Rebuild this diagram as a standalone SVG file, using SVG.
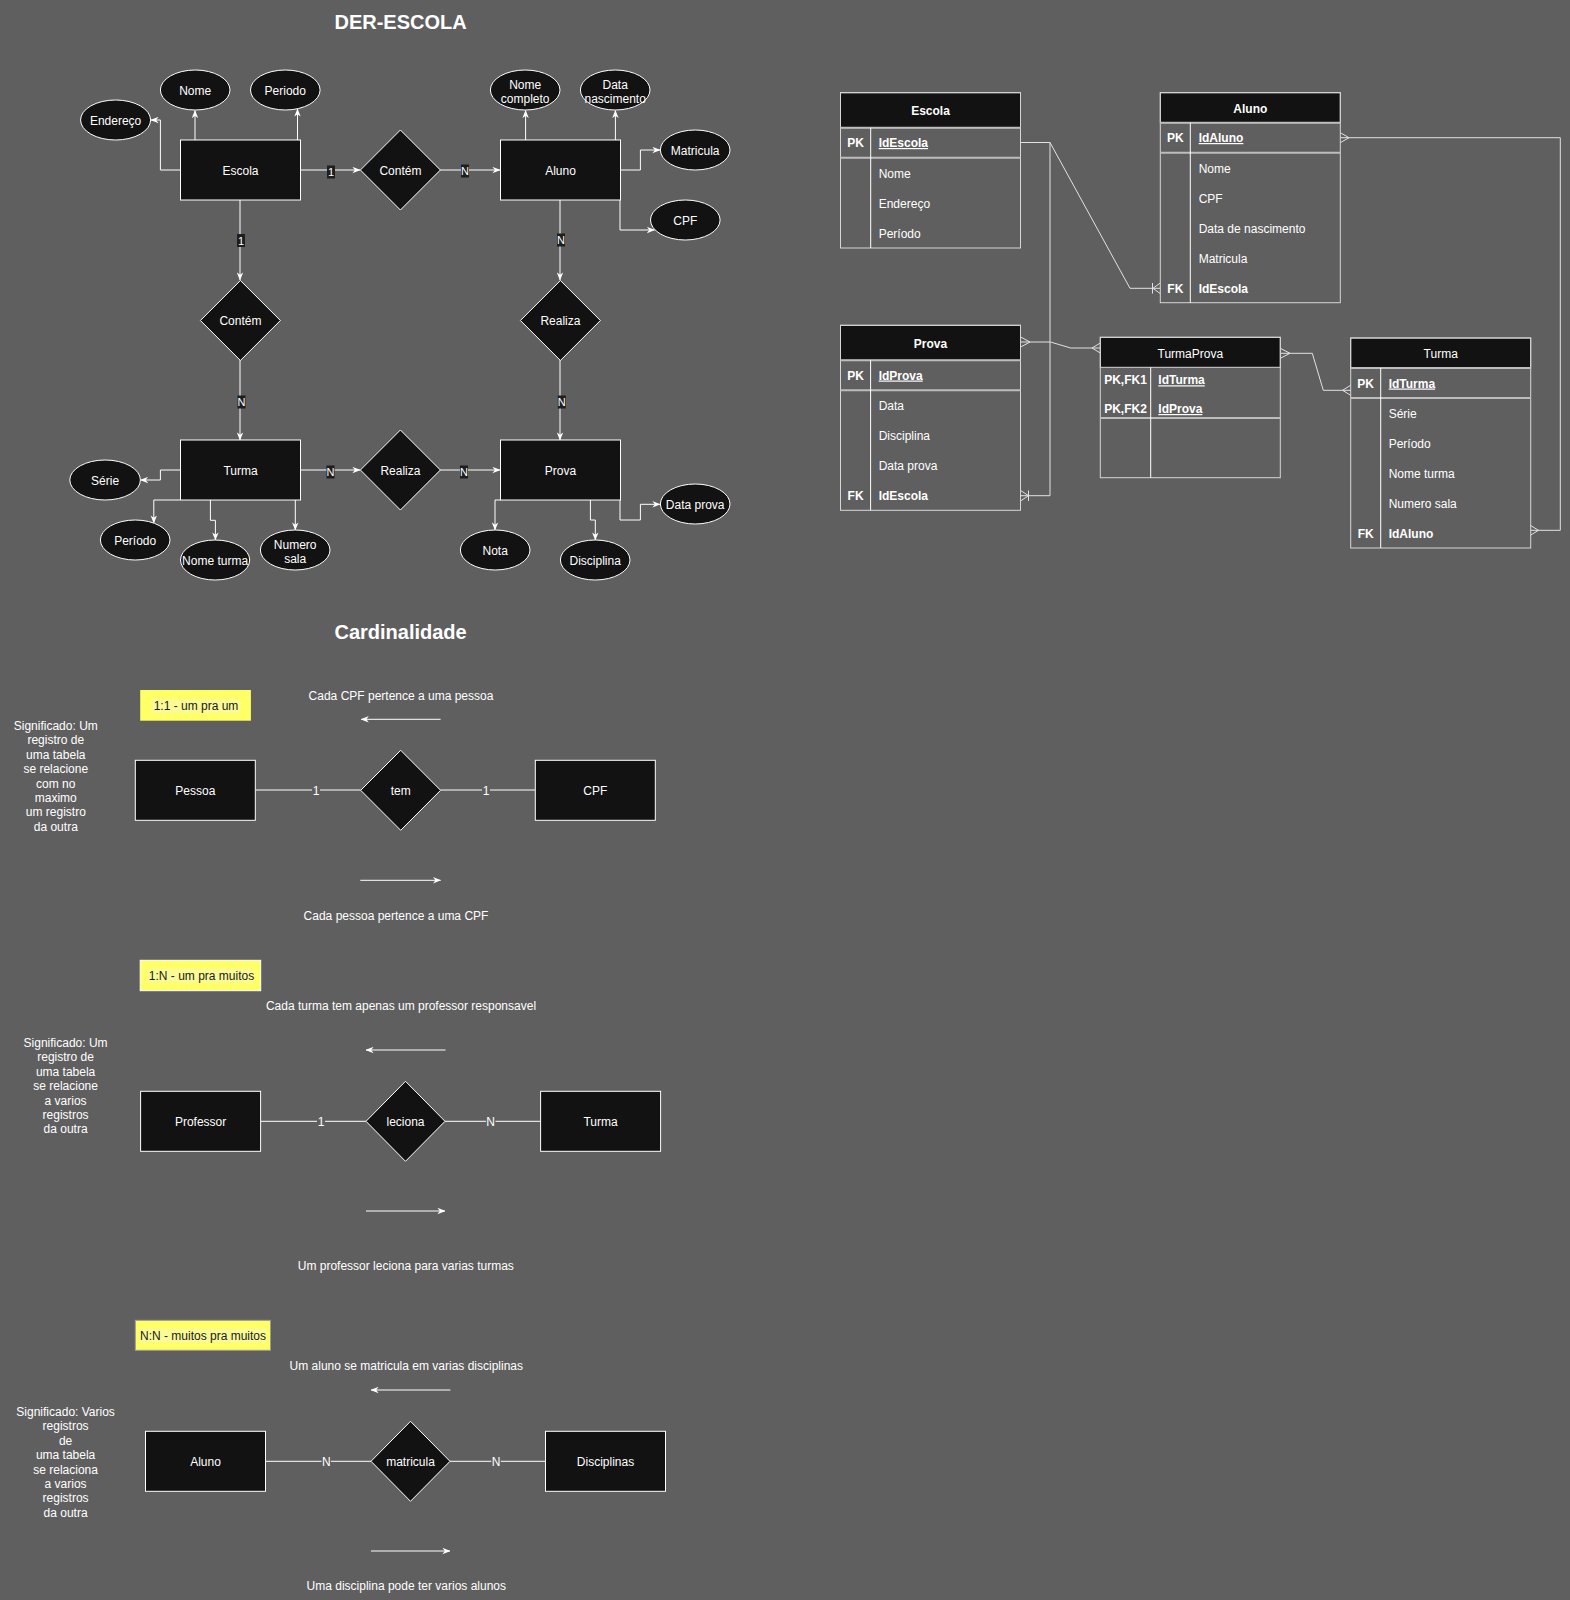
<svg xmlns="http://www.w3.org/2000/svg" width="1570" height="1600" viewBox="0 0 1570 1600">
<style>
text{font-family:"Liberation Sans",Arial,Helvetica,sans-serif;font-size:12px;fill:#ffffff}
.c{text-anchor:middle}
.b{font-weight:bold}
.u{text-decoration:underline}
.title{font-size:20px;font-weight:bold;text-anchor:middle}
.ent{fill:#121212;stroke:#ffffff;stroke-width:1}
.e{fill:none;stroke:#ffffff;stroke-width:1}
.er{fill:none;stroke:#e2e2e2;stroke-width:1}
.lbl{font-size:11px;text-anchor:middle}
.lb{fill:#1e1e1e}
.cb{fill:#5f5f5f}
.hdr{fill:#121212;stroke:#d6d6d6;stroke-width:1}
.tbl{fill:none;stroke:#d6d6d6;stroke-width:1}
.sep{stroke:#bdbdbd;stroke-width:2}
.col{stroke:#ffffff;stroke-width:1}
.yb{fill:#ffff66}
.yi{fill:#fbfb96}
.dk{fill:#1a1a1a;text-anchor:middle}
</style>
<defs>
<marker id="arr" viewBox="0 0 10 8" refX="9.5" refY="4" markerWidth="8" markerHeight="7" markerUnits="userSpaceOnUse" orient="auto">
<path d="M0,0 L10,4 L0,8 L3,4 z" fill="#ffffff"/>
</marker>
</defs>
<rect x="0" y="0" width="1570" height="1600" fill="#5f5f5f"/>

<text id="title-der" class="title" x="400.6" y="29.3">DER-ESCOLA</text>
<text id="title-card" class="title" x="400.6" y="639">Cardinalidade</text>

<!-- ER connectors -->
<g id="connectors">
<path class="e" d="M180,170 H160.4 V120 H151" marker-end="url(#arr)"/>
<path class="e" d="M195,140 V110.5" marker-end="url(#arr)"/>
<path class="e" d="M297.5,140 V109" marker-end="url(#arr)"/>
<path class="e" d="M300,170 H360" marker-end="url(#arr)"/>
<path class="e" d="M440,170 H500" marker-end="url(#arr)"/>
<path class="e" d="M525.6,140 V110.5" marker-end="url(#arr)"/>
<path class="e" d="M615.4,140 V110.5" marker-end="url(#arr)"/>
<path class="e" d="M620,170 H640.4 V150 H660" marker-end="url(#arr)"/>
<path class="e" d="M620,200 V230 H654.5" marker-end="url(#arr)"/>
<path class="e" d="M240,200 V280" marker-end="url(#arr)"/>
<path class="e" d="M560,200 V280" marker-end="url(#arr)"/>
<path class="e" d="M240,360 V440" marker-end="url(#arr)"/>
<path class="e" d="M560,360 V440" marker-end="url(#arr)"/>
<path class="e" d="M300,470 H360" marker-end="url(#arr)"/>
<path class="e" d="M440,470 H500" marker-end="url(#arr)"/>
<path class="e" d="M180,470 H160.4 V480 H140.5" marker-end="url(#arr)"/>
<path class="e" d="M180,500 H153.8 V523" marker-end="url(#arr)"/>
<path class="e" d="M210.4,500 V520.3 H215.4 V540" marker-end="url(#arr)"/>
<path class="e" d="M295.3,500 V530" marker-end="url(#arr)"/>
<path class="e" d="M500.6,500 H495 V530" marker-end="url(#arr)"/>
<path class="e" d="M590.4,500 V520 H595.3 V540" marker-end="url(#arr)"/>
<path class="e" d="M620,500 V520 H640.4 V504.3 H660" marker-end="url(#arr)"/>

<rect class="lb" x="327" y="165.5" width="8" height="13"/><text class="lbl" x="331" y="176">1</text>
<rect class="lb" x="461" y="164.5" width="8" height="13"/><text class="lbl" x="465" y="175">N</text>
<rect class="lb" x="237" y="234" width="8" height="13"/><text class="lbl" x="241" y="244.5">1</text>
<rect class="lb" x="557" y="233.5" width="8" height="13"/><text class="lbl" x="561" y="244">N</text>
<rect class="lb" x="237.5" y="395.5" width="8" height="13"/><text class="lbl" x="241.5" y="406">N</text>
<rect class="lb" x="557.8" y="395.5" width="8" height="13"/><text class="lbl" x="561.8" y="406">N</text>
<rect class="lb" x="326.5" y="465.5" width="8" height="13"/><text class="lbl" x="330.5" y="476">N</text>
<rect class="lb" x="460" y="465.5" width="8" height="13"/><text class="lbl" x="464" y="476">N</text>

<!-- relational connectors -->
<path class="er" d="M1020.7,142.5 H1050 L1130,288.3 H1160.3"/>
<path class="er" d="M1160.3,283 L1153,288.3 L1160.3,293.6 M1152.5,283 V293.6"/>
<path class="er" d="M1050,142.5 V495.7 H1020.7"/>
<path class="er" d="M1020.7,490.5 L1028.5,495.7 L1020.7,500.9 M1028.5,490.5 V500.9"/>
<path class="er" d="M1020.7,342 H1050.5 L1070.7,348 H1100.3"/>
<path class="er" d="M1020.7,337 L1030,342 L1020.7,347"/>
<path class="er" d="M1100.3,343 L1092,348 L1100.3,353"/>
<path class="er" d="M1280.3,353.3 H1312.3 L1323.3,390.3 H1350.7"/>
<path class="er" d="M1280.3,348.3 L1290,353.3 L1280.3,358.3"/>
<path class="er" d="M1350.7,385.3 L1342.5,390.3 L1350.7,395.3"/>
<path class="er" d="M1340.3,137.7 H1560.3 V530.3 H1530.3"/>
<path class="er" d="M1340.3,132.7 L1349,137.7 L1340.3,142.7"/>
<path class="er" d="M1530.3,525.3 L1538.5,530.3 L1530.3,535.3"/>

<!-- cardinality connectors -->
<path class="e" d="M255.4,790 H360.7"/>
<path class="e" d="M440.6,790 H535.3"/>
<rect class="cb" x="312" y="783" width="8" height="14"/><text class="c" x="316" y="794.5">1</text>
<rect class="cb" x="482" y="783" width="8" height="14"/><text class="c" x="486" y="794.5">1</text>
<path class="e" d="M260.7,1121.3 H366"/>
<path class="e" d="M445,1121.3 H540.6"/>
<rect class="cb" x="317" y="1114.3" width="8" height="14"/><text class="c" x="321" y="1126">1</text>
<rect class="cb" x="486" y="1114.3" width="9.5" height="14"/><text class="c" x="490.6" y="1126">N</text>
<path class="e" d="M265.6,1461.3 H371"/>
<path class="e" d="M450,1461.3 H545.5"/>
<rect class="cb" x="321.5" y="1454.3" width="9.5" height="14"/><text class="c" x="326.3" y="1466">N</text>
<rect class="cb" x="491.3" y="1454.3" width="9.5" height="14"/><text class="c" x="496" y="1466">N</text>

<path class="e" d="M440.6,719.3 H361.2" marker-end="url(#arr)"/>
<path class="e" d="M360.3,880.3 H440.6" marker-end="url(#arr)"/>
<path class="e" d="M445.5,1050 H366" marker-end="url(#arr)"/>
<path class="e" d="M366,1211 H445" marker-end="url(#arr)"/>
<path class="e" d="M450.4,1390 H371" marker-end="url(#arr)"/>
<path class="e" d="M371,1551 H450" marker-end="url(#arr)"/>
</g>

<!-- ER entities -->
<g id="ent-escola"><rect class="ent" x="180.5" y="140" width="120" height="60"/><text class="c" x="240.5" y="175">Escola</text></g>
<g id="ent-aluno"><rect class="ent" x="500.5" y="140" width="120" height="60"/><text class="c" x="560.5" y="175">Aluno</text></g>
<g id="ent-turma"><rect class="ent" x="180.5" y="440" width="120" height="60"/><text class="c" x="240.5" y="475">Turma</text></g>
<g id="ent-prova"><rect class="ent" x="500.5" y="440" width="120" height="60"/><text class="c" x="560.5" y="475">Prova</text></g>

<g id="rel-contem1"><polygon class="ent" points="400.4,130 440.4,170 400.4,210 360.4,170"/><text class="c" x="400.4" y="175">Contém</text></g>
<g id="rel-contem2"><polygon class="ent" points="240.4,280.5 280.4,320.5 240.4,360.5 200.4,320.5"/><text class="c" x="240.4" y="325">Contém</text></g>
<g id="rel-realiza1"><polygon class="ent" points="560.4,280.5 600.4,320.5 560.4,360.5 520.4,320.5"/><text class="c" x="560.4" y="325">Realiza</text></g>
<g id="rel-realiza2"><polygon class="ent" points="400.4,430 440.4,470 400.4,510 360.4,470"/><text class="c" x="400.4" y="475">Realiza</text></g>

<g id="att-nome"><ellipse class="ent" cx="195.2" cy="90" rx="34.8" ry="20"/><text class="c" x="195.2" y="95">Nome</text></g>
<g id="att-periodo"><ellipse class="ent" cx="285.3" cy="90" rx="34.8" ry="20"/><text class="c" x="285.3" y="95">Periodo</text></g>
<g id="att-endereco"><ellipse class="ent" cx="115.6" cy="120" rx="35" ry="20"/><text class="c" x="115.6" y="125">Endereço</text></g>
<g id="att-nomecompleto"><ellipse class="ent" cx="525.2" cy="90" rx="34.8" ry="20"/><text class="c" x="525.2" y="88.5">Nome</text><text class="c" x="525.2" y="103">completo</text></g>
<g id="att-datanasc"><ellipse class="ent" cx="615.2" cy="90" rx="34.8" ry="20"/><text class="c" x="615.2" y="88.5">Data</text><text class="c" x="615.2" y="103">nascimento</text></g>
<g id="att-matricula"><ellipse class="ent" cx="695.2" cy="150" rx="34.8" ry="20"/><text class="c" x="695.2" y="155">Matricula</text></g>
<g id="att-cpf"><ellipse class="ent" cx="685.3" cy="220" rx="34.8" ry="20"/><text class="c" x="685.3" y="225">CPF</text></g>
<g id="att-serie"><ellipse class="ent" cx="105.1" cy="480" rx="35.3" ry="20"/><text class="c" x="105.1" y="485">Série</text></g>
<g id="att-periodo2"><ellipse class="ent" cx="135.2" cy="540" rx="34.8" ry="20"/><text class="c" x="135.2" y="545">Período</text></g>
<g id="att-nometurma"><ellipse class="ent" cx="215.1" cy="560" rx="34.6" ry="20"/><text class="c" x="215.1" y="565">Nome turma</text></g>
<g id="att-numerosala"><ellipse class="ent" cx="295.2" cy="550" rx="34.8" ry="20"/><text class="c" x="295.2" y="548.5">Numero</text><text class="c" x="295.2" y="563">sala</text></g>
<g id="att-nota"><ellipse class="ent" cx="495.2" cy="550" rx="34.8" ry="20"/><text class="c" x="495.2" y="555">Nota</text></g>
<g id="att-disciplina"><ellipse class="ent" cx="595.2" cy="560" rx="34.8" ry="20"/><text class="c" x="595.2" y="565">Disciplina</text></g>
<g id="att-dataprova"><ellipse class="ent" cx="695.2" cy="504" rx="34.8" ry="20"/><text class="c" x="695.2" y="509">Data prova</text></g>

<!-- Tables -->
<g id="tbl-escola">
<rect class="hdr" x="840.5" y="92.7" width="180" height="35"/>
<rect class="tbl" x="840.5" y="92.7" width="180" height="155.3"/>
<line class="sep" x1="840.5" y1="127.7" x2="1020.5" y2="127.7"/>
<line class="sep" x1="840.5" y1="157.7" x2="1020.5" y2="157.7"/>
<line class="col" x1="870.7" y1="127.7" x2="870.7" y2="248"/>
<text class="c b" x="930.5" y="115">Escola</text>
<text class="c b" x="855.6" y="147">PK</text><text class="b u" x="878.7" y="147">IdEscola</text>
<text x="878.7" y="178">Nome</text>
<text x="878.7" y="208">Endereço</text>
<text x="878.7" y="238">Período</text>
</g>

<g id="tbl-aluno">
<rect class="hdr" x="1160.3" y="92.7" width="180" height="30"/>
<rect class="tbl" x="1160.3" y="92.7" width="180" height="210"/>
<line class="sep" x1="1160.3" y1="122.7" x2="1340.3" y2="122.7"/>
<line class="sep" x1="1160.3" y1="152.7" x2="1340.3" y2="152.7"/>
<line class="col" x1="1190.3" y1="122.7" x2="1190.3" y2="302.7"/>
<text class="c b" x="1250.3" y="113">Aluno</text>
<text class="c b" x="1175.3" y="142">PK</text><text class="b u" x="1198.7" y="142">IdAluno</text>
<text x="1198.7" y="173">Nome</text>
<text x="1198.7" y="203">CPF</text>
<text x="1198.7" y="233">Data de nascimento</text>
<text x="1198.7" y="263">Matricula</text>
<text class="c b" x="1175.3" y="292.5">FK</text><text class="b" x="1198.7" y="292.5">IdEscola</text>
</g>

<g id="tbl-prova">
<rect class="hdr" x="840.5" y="325.3" width="180" height="35"/>
<rect class="tbl" x="840.5" y="325.3" width="180" height="185"/>
<line class="sep" x1="840.5" y1="360.3" x2="1020.5" y2="360.3"/>
<line class="sep" x1="840.5" y1="390.3" x2="1020.5" y2="390.3"/>
<line class="col" x1="870.6" y1="360.3" x2="870.6" y2="510.3"/>
<text class="c b" x="930.5" y="348">Prova</text>
<text class="c b" x="855.6" y="379.5">PK</text><text class="b u" x="878.7" y="379.5">IdProva</text>
<text x="878.7" y="410">Data</text>
<text x="878.7" y="440">Disciplina</text>
<text x="878.7" y="470">Data prova</text>
<text class="c b" x="855.6" y="500">FK</text><text class="b" x="878.7" y="500">IdEscola</text>
</g>

<g id="tbl-turmaprova">
<rect class="hdr" x="1100.3" y="337.3" width="180" height="30"/>
<rect class="tbl" x="1100.3" y="337.3" width="180" height="140.4"/>
<line class="sep" x1="1100.3" y1="418" x2="1280.3" y2="418"/>
<line class="col" x1="1150.7" y1="367.3" x2="1150.7" y2="477.7"/>
<text class="c" x="1190.3" y="357.5">TurmaProva</text>
<text class="c b" x="1125.5" y="384.3">PK,FK1</text><text class="b u" x="1158.3" y="384.3">IdTurma</text>
<text class="c b" x="1125.5" y="413">PK,FK2</text><text class="b u" x="1158.3" y="413">IdProva</text>
</g>

<g id="tbl-turma">
<rect class="hdr" x="1350.7" y="338" width="180" height="30"/>
<rect class="tbl" x="1350.7" y="338" width="180" height="210"/>
<line class="sep" x1="1350.7" y1="368" x2="1530.7" y2="368"/>
<line class="sep" x1="1350.7" y1="398" x2="1530.7" y2="398"/>
<line class="col" x1="1380.7" y1="368" x2="1380.7" y2="548"/>
<text class="c" x="1440.7" y="357.5">Turma</text>
<text class="c b" x="1365.7" y="387.5">PK</text><text class="b u" x="1388.7" y="387.5">IdTurma</text>
<text x="1388.7" y="417.5">Série</text>
<text x="1388.7" y="447.5">Período</text>
<text x="1388.7" y="477.5">Nome turma</text>
<text x="1388.7" y="507.5">Numero sala</text>
<text class="c b" x="1365.7" y="538">FK</text><text class="b" x="1388.7" y="538">IdAluno</text>
</g>

<!-- Cardinality 1:1 -->
<g id="tag-11"><rect class="yb" x="140.2" y="690" width="110.7" height="30.7"/><rect class="yi" x="151.7" y="699" width="88.3" height="14.3"/><text class="dk" x="196" y="710.3">1:1 - um pra um</text></g>
<g id="txt-11a"><text class="c" x="401" y="700">Cada CPF pertence a uma pessoa</text></g>
<g id="txt-11b"><text class="c" x="396" y="920">Cada pessoa pertence a uma CPF</text></g>
<g id="sig-11"><text class="c" x="55.8" y="730">Significado: Um<tspan x="55.8" dy="14.4">registro de</tspan><tspan x="55.8" dy="14.4">uma tabela</tspan><tspan x="55.8" dy="14.4">se relacione</tspan><tspan x="55.8" dy="14.4">com no</tspan><tspan x="55.8" dy="14.4">maximo</tspan><tspan x="55.8" dy="14.4">um registro</tspan><tspan x="55.8" dy="14.4">da outra</tspan></text></g>
<g id="c-pessoa"><rect class="ent" x="135.3" y="760.3" width="120" height="60"/><text class="c" x="195.3" y="795">Pessoa</text></g>
<g id="c-tem"><polygon class="ent" points="400.7,750.3 440.6,790.3 400.7,830.3 360.7,790.3"/><text class="c" x="400.7" y="795">tem</text></g>
<g id="c-cpf"><rect class="ent" x="535.3" y="760.3" width="120" height="60"/><text class="c" x="595.3" y="795">CPF</text></g>

<!-- Cardinality 1:N -->
<g id="tag-1n"><rect class="yb" x="140.2" y="960.3" width="120.5" height="30.4" stroke="#ffffff" stroke-width="1"/><rect class="yi" x="147.5" y="968.5" width="106" height="14.3"/><text class="dk" x="201.5" y="980">1:N - um pra muitos</text></g>
<g id="txt-1na"><text class="c" x="401" y="1010">Cada turma tem apenas um professor responsavel</text></g>
<g id="txt-1nb"><text class="c" x="405.8" y="1270">Um professor leciona para varias turmas</text></g>
<g id="sig-1n"><text class="c" x="65.6" y="1047">Significado: Um<tspan x="65.6" dy="14.4">registro de</tspan><tspan x="65.6" dy="14.4">uma tabela</tspan><tspan x="65.6" dy="14.4">se relacione</tspan><tspan x="65.6" dy="14.4">a varios</tspan><tspan x="65.6" dy="14.4">registros</tspan><tspan x="65.6" dy="14.4">da outra</tspan></text></g>
<g id="c-professor"><rect class="ent" x="140.6" y="1091.3" width="120" height="60"/><text class="c" x="200.6" y="1126">Professor</text></g>
<g id="c-leciona"><polygon class="ent" points="405.5,1081.3 445,1121.3 405.5,1161.3 366,1121.3"/><text class="c" x="405.5" y="1126">leciona</text></g>
<g id="c-turma"><rect class="ent" x="540.6" y="1091.3" width="120" height="60"/><text class="c" x="600.6" y="1126">Turma</text></g>

<!-- Cardinality N:N -->
<g id="tag-nn"><rect class="yb" x="135.3" y="1320.3" width="135.2" height="30" stroke="#9a9a9a" stroke-width="1"/><rect class="yi" x="140" y="1328.5" width="126" height="14.3"/><text class="dk" x="203" y="1340">N:N - muitos pra muitos</text></g>
<g id="txt-nna"><text class="c" x="406.3" y="1370">Um aluno se matricula em varias disciplinas</text></g>
<g id="txt-nnb"><text class="c" x="406.3" y="1590">Uma disciplina pode ter varios alunos</text></g>
<g id="sig-nn"><text class="c" x="65.6" y="1416">Significado: Varios<tspan x="65.6" dy="14.4">registros</tspan><tspan x="65.6" dy="14.4">de</tspan><tspan x="65.6" dy="14.4">uma tabela</tspan><tspan x="65.6" dy="14.4">se relaciona</tspan><tspan x="65.6" dy="14.4">a varios</tspan><tspan x="65.6" dy="14.4">registros</tspan><tspan x="65.6" dy="14.4">da outra</tspan></text></g>
<g id="c-aluno"><rect class="ent" x="145.5" y="1431.3" width="120" height="60"/><text class="c" x="205.5" y="1466">Aluno</text></g>
<g id="c-matricula"><polygon class="ent" points="410.5,1421.3 450,1461.3 410.5,1501.3 371,1461.3"/><text class="c" x="410.5" y="1466">matricula</text></g>
<g id="c-disciplinas"><rect class="ent" x="545.5" y="1431.3" width="120" height="60"/><text class="c" x="605.5" y="1466">Disciplinas</text></g>
</svg>
